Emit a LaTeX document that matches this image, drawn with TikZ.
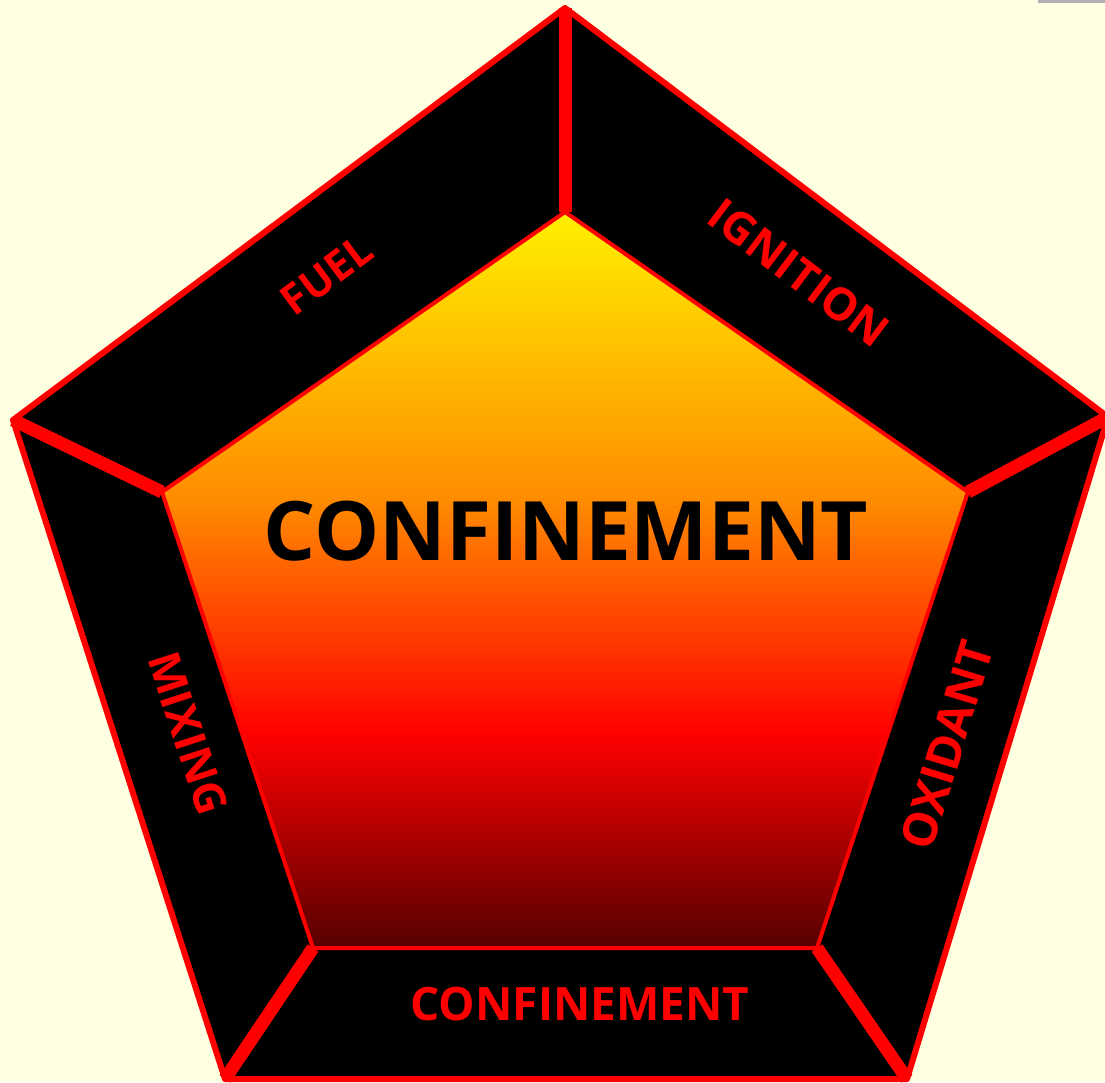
\documentclass[tikz,border=0pt]{standalone}
\usepackage{fontspec}
\setmainfont{Open Sans}
\definecolor{bg}{RGB}{255,255,225}
\definecolor{dkred}{RGB}{85,0,0}
\definecolor{fred}{RGB}{255,0,0}
\definecolor{orng}{RGB}{255,140,0}
\definecolor{yel}{RGB}{255,240,0}
\definecolor{bar}{RGB}{176,176,176}
\pgfdeclareverticalshading{fire}{100bp}{color(0bp)=(dkred); color(25bp)=(dkred); color(39.5bp)=(fred); color(55.5bp)=(orng); color(75bp)=(yel); color(100bp)=(yel)}
\tikzset{
  edgelabel/.style={text=red, font=\bfseries\fontsize{45}{45}\selectfont, inner sep=0pt, anchor=center},
  divider/.style={draw=red, line width=13pt, line cap=butt},
}
\begin{document}
\begin{tikzpicture}[x=1pt,y=1pt]
\useasboundingbox (0,0) rectangle (1105,1082);
\clip (0,0) rectangle (1105,1082);
\fill[bg] (0,0) rectangle (1105,1082);
\fill[bar] (1038,1079) rectangle (1105,1082);
% outer vertices
\coordinate (T) at (565,1074);
\coordinate (R) at (1108,665);
\coordinate (BR) at (907,3);
\coordinate (BL) at (225,3);
\coordinate (L) at (13,662);
% inner vertices
\coordinate (t) at (565,870);
\coordinate (r) at (968,590);
\coordinate (br) at (817,134);
\coordinate (bl) at (313,134);
\coordinate (l) at (162,590);
\filldraw[fill=black, draw=red, line width=6pt, line join=round] (T) -- (R) -- (BR) -- (BL) -- (L) -- cycle;
\draw[divider] (T) -- (t);
\draw[divider] (R) -- (r);
\draw[divider] (BR) -- (br);
\draw[divider] (BL) -- (bl);
\draw[divider] (L) -- (l);
\shade[shading=fire] (t) -- (r) -- (br) -- (bl) -- (l) -- cycle;
\draw[red, line width=4pt, line join=round] (t) -- (r) -- (br) -- (bl) -- (l) -- cycle;
\node[font=\bfseries\fontsize{82}{82}\selectfont, text=black, inner sep=0pt] (center) at (566,551) {CONFINEMENT};
\node[edgelabel, font=\bfseries\fontsize{46}{46}\selectfont] (conf) at (580,78) {CONFINEMENT};
\node[edgelabel, font=\bfseries\fontsize{42}{42}\selectfont, rotate=36.7] (fuel) at (327,807) {FUEL};
\node[edgelabel, rotate=-37] (ign) at (799,809) {IGNITION};
\node[edgelabel, font=\bfseries\fontsize{44}{44}\selectfont, rotate=-72] (mix) at (188,349) {MIXING};
\node[edgelabel, font=\bfseries\fontsize{47}{47}\selectfont, rotate=73] (oxi) at (947,337) {OXIDANT};
\end{tikzpicture}
\end{document}
